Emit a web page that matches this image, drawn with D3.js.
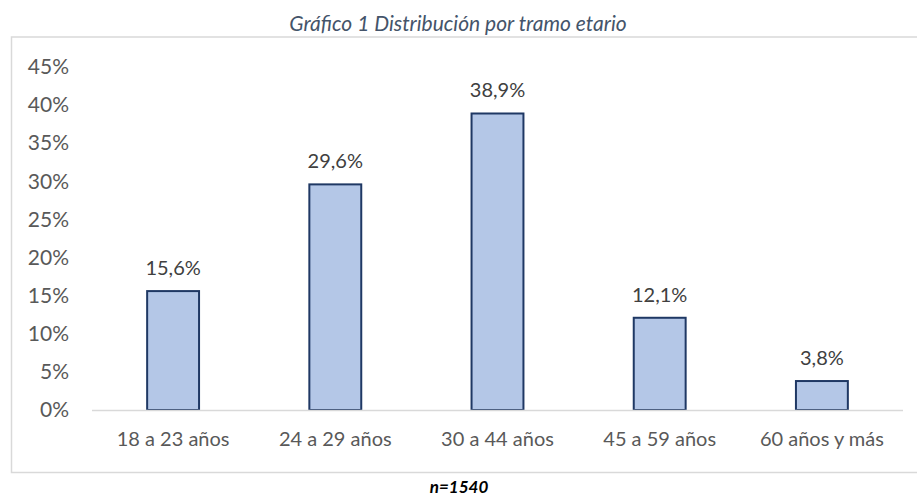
<!DOCTYPE html>
<html>
<head>
<meta charset="utf-8">
<script src="https://cdn.jsdelivr.net/npm/d3@7"></script>
<style>
  body { margin: 0; background: #fff; }
  text { font-family: Lato, "Open Sans", sans-serif; }
</style>
</head>
<body>
<div id="chart"></div>
<script>
// Data
const categories = ["18 a 23 años", "24 a 29 años", "30 a 44 años", "45 a 59 años", "60 años y más"];
const values = [15.6, 29.6, 38.9, 12.1, 3.8];
const yTicks = [0, 5, 10, 15, 20, 25, 30, 35, 40, 45];
const titleText = "Gráfico 1 Distribución por tramo etario";
const noteText = "n=1540";

const W = 917, H = 497;
const margin = {left: 92, right: 14, top: 67, bottom: 87};
const width = W - margin.left - margin.right;
const height = H - margin.top - margin.bottom;

const svg = d3.select("#chart")
    .append("svg")
    .attr("width", W)
    .attr("height", H);

//Chart area border (no right edge visible in the source)
svg.append("path")
    .attr("d", `M${W},37 H11.5 V472.5 H${W}`)
    .attr("fill", "none")
    .attr("stroke", "#d9d9d9")
    .attr("stroke-width", 1.5);

//Title
svg.append("text")
    .attr("x", 458)
    .attr("y", 31)
    .attr("text-anchor", "middle")
    .attr("font-style", "italic")
    .attr("font-size", 21)
    .attr("fill", "#44546a")
    .text(titleText);

//Sample size note below the box
svg.append("text")
    .attr("x", 459)
    .attr("y", 493)
    .attr("text-anchor", "middle")
    .attr("font-style", "italic")
    .attr("font-weight", "bold")
    .attr("font-size", 17)
    .attr("fill", "#000")
    .text(noteText);

const g = svg.append("g")
    .attr("transform", `translate(${margin.left},${margin.top})`);

//Scales
const xScale = d3.scaleBand()
    .domain(categories)
    .range([0, width])
    .paddingInner(0.68)
    .paddingOuter(0.34);

const yScale = d3.scaleLinear()
    .domain([0, 45])
    .range([height, 0]);

//Y axis labels only
const yAxis = g.append("g")
    .call(d3.axisLeft(yScale).tickValues(yTicks).tickFormat(d => d + "%").tickSize(0).tickPadding(23));
yAxis.select(".domain").remove();
yAxis.selectAll("text")
    .attr("font-size", 21)
    .attr("fill", "#595959")
    .style("font-family", "Lato, 'Open Sans', sans-serif");

//Bars
g.selectAll(".bar")
    .data(values)
    .enter()
    .append("rect")
    .attr("class", "bar")
    .attr("x", (d, i) => xScale(categories[i]))
    .attr("y", d => yScale(d))
    .attr("width", xScale.bandwidth())
    .attr("height", d => height - yScale(d))
    .attr("fill", "#b4c7e7")
    .attr("stroke", "#1f3864")
    .attr("stroke-width", 2);

//Baseline drawn over the bar bottoms
g.append("line")
    .attr("x1", 0)
    .attr("x2", width)
    .attr("y1", height + 0.5)
    .attr("y2", height + 0.5)
    .attr("stroke", "#d9d9d9")
    .attr("stroke-width", 1.5);

//X axis labels
const xAxis = g.append("g")
    .attr("transform", `translate(0,${height})`)
    .call(d3.axisBottom(xScale).tickSize(0).tickPadding(22));
xAxis.select(".domain").remove();
xAxis.selectAll("text")
    .attr("font-size", 20)
    .attr("fill", "#595959")
    .style("font-family", "Lato, 'Open Sans', sans-serif");

//Value labels
g.selectAll(".label")
    .data(values)
    .enter()
    .append("text")
    .attr("class", "label")
    .attr("x", (d, i) => xScale(categories[i]) + xScale.bandwidth() / 2)
    .attr("y", d => yScale(d) - 16)
    .attr("text-anchor", "middle")
    .attr("font-size", 20)
    .attr("fill", "#404040")
    .text(d => d.toFixed(1).replace(".", ",") + "%");
</script>
</body>
</html>
